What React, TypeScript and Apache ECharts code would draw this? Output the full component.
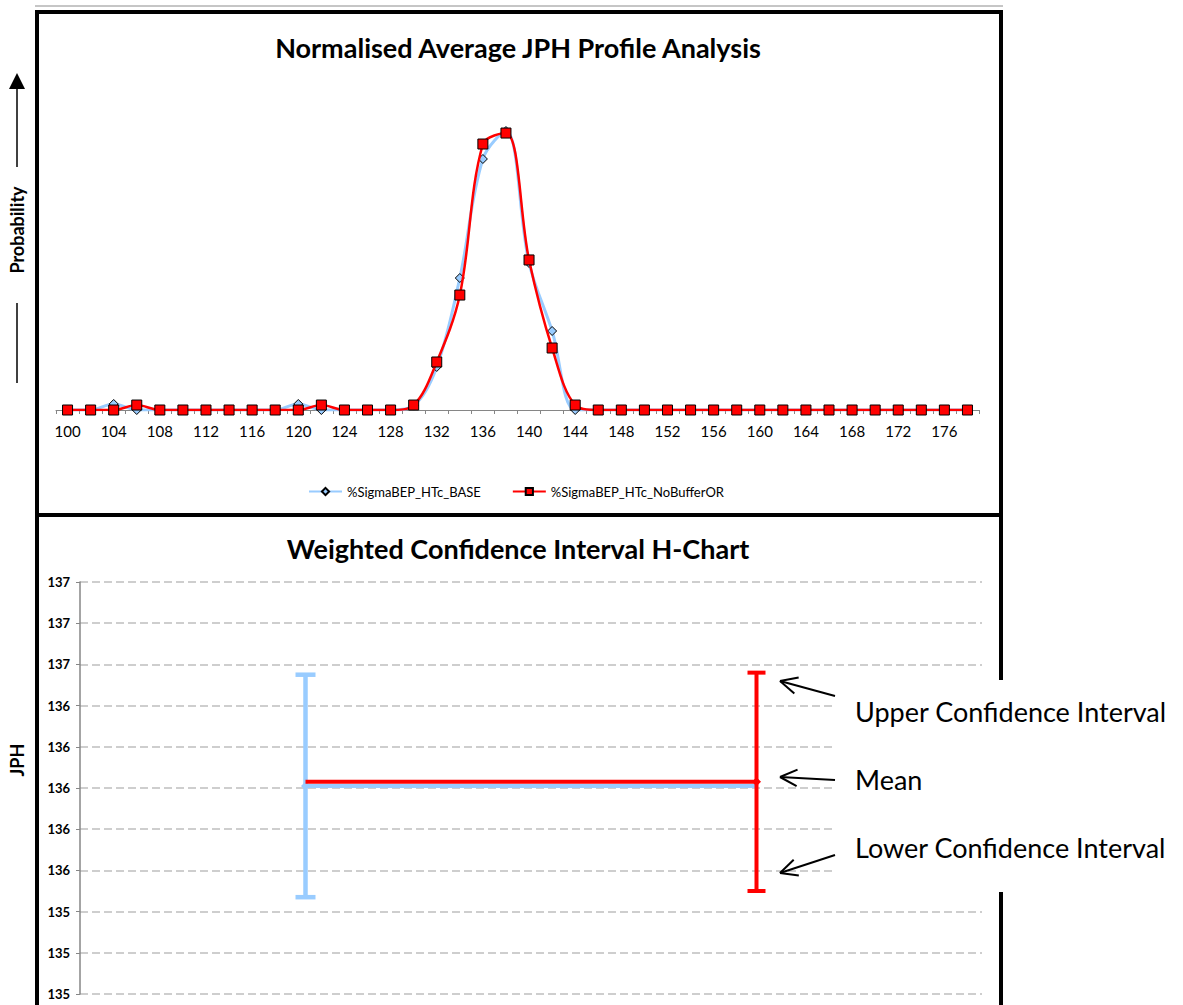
import React, { useEffect, useRef } from "react";
import * as echarts from "echarts";

// ---- Profile chart data (JPH bins and normalised probability, %) ----
const jphBins = [
  "100", "102", "104", "106", "108", "110", "112", "114", "116", "118",
  "120", "122", "124", "126", "128", "130", "132", "134", "136", "138",
  "140", "142", "144", "146", "148", "150", "152", "154", "156", "158",
  "160", "162", "164", "166", "168", "170", "172", "174", "176", "178",
];
const baseProb = [
  0, 0, 0.68, 0, 0, 0, 0, 0, 0, 0,
  0.68, 0, 0, 0, 0, 0.5, 4.86, 14.9, 28.34, 31.5,
  16.6, 8.92, 0, 0, 0, 0, 0, 0, 0, 0,
  0, 0, 0, 0, 0, 0, 0, 0, 0, 0,
];
const noBufferProb = [
  0, 0, 0, 0.56, 0, 0, 0, 0, 0, 0,
  0, 0.56, 0, 0, 0, 0.56, 5.42, 12.98, 30.03, 31.27,
  16.94, 7.0, 0.56, 0, 0, 0, 0, 0, 0, 0,
  0, 0, 0, 0, 0, 0, 0, 0, 0, 0,
];
const seriesNames = ["%SigmaBEP_HTc_BASE", "%SigmaBEP_HTc_NoBufferOR"];

// ---- H-chart data (weighted confidence intervals, JPH) ----
const hCategories = ["BASE", "NoBufferOR"];
const baseInterval = { lower: 135.47, mean: 136.01, upper: 136.55 };
const noBufferInterval = { lower: 135.5, mean: 136.03, upper: 136.56 };

const FONT = "Lato, 'Open Sans', sans-serif";
const BLUE = "#99CCFF";
const RED = "#FF0000";

function errorBar(color: string, width: number, capHalf: number) {
  return (params: any, api: any) => {
    const lo = api.coord([api.value(0), api.value(1)]);
    const hi = api.coord([api.value(0), api.value(2)]);
    const style = { stroke: color, lineWidth: width };
    return {
      type: "group",
      children: [
        { type: "line", shape: { x1: lo[0], y1: lo[1], x2: hi[0], y2: hi[1] }, style },
        { type: "line", shape: { x1: hi[0] - capHalf, y1: hi[1], x2: hi[0] + capHalf, y2: hi[1] }, style },
        { type: "line", shape: { x1: lo[0] - capHalf, y1: lo[1], x2: lo[0] + capHalf, y2: lo[1] }, style },
      ],
    };
  };
}

// Open arrow (shaft plus two head strokes) pointing at the tip
function openArrow(tipX: number, tipY: number, tailX: number, tailY: number) {
  const ang = Math.atan2(tailY - tipY, tailX - tipX);
  const len = 19;
  const spread = 0.45;
  const style = { stroke: "#000", lineWidth: 2 };
  return [
    { type: "line", z: 20, shape: { x1: tailX, y1: tailY, x2: tipX, y2: tipY }, style },
    {
      type: "line",
      z: 20,
      shape: { x1: tipX, y1: tipY, x2: tipX + len * Math.cos(ang + spread), y2: tipY + len * Math.sin(ang + spread) },
      style,
    },
    {
      type: "line",
      z: 20,
      shape: { x1: tipX, y1: tipY, x2: tipX + len * Math.cos(ang - spread), y2: tipY + len * Math.sin(ang - spread) },
      style,
    },
  ];
}

function label(text: string, x: number, y: number, size: number, bold: boolean, rotation = 0, align = "center") {
  return {
    type: "text",
    x,
    y,
    z: 20,
    rotation,
    style: {
      text,
      fontFamily: FONT,
      fontSize: size,
      fontWeight: bold ? "bold" : "normal",
      fill: "#000",
      align,
      textAlign: align,
      verticalAlign: "middle",
      textVerticalAlign: "middle",
    },
  };
}

export default function App() {
  const ref = useRef<HTMLDivElement>(null);

  useEffect(() => {
    if (!ref.current) return;
    const chart = echarts.init(ref.current, null, { renderer: "svg" });

    const option: any = {
      animation: false,
      backgroundColor: "#fff",
      grid: [
        { left: 56, right: 204, top: 100, bottom: 595 },
        { left: 80, right: 201, top: 582, bottom: 11 },
      ],
      legend: {
        data: seriesNames,
        left: 303,
        top: 480,
        itemWidth: 33,
        itemHeight: 9,
        itemGap: 31,
        textStyle: { fontFamily: FONT, fontSize: 13, color: "#000" },
      },
      xAxis: [
        {
          type: "category",
          gridIndex: 0,
          data: jphBins,
          boundaryGap: true,
          axisLine: { lineStyle: { color: "#868686", width: 1 } },
          axisTick: { show: true, interval: 0, length: 4, lineStyle: { color: "#868686" } },
          axisLabel: { interval: 1, fontFamily: FONT, fontSize: 15, color: "#000", margin: 13 },
          splitLine: { show: false },
        },
        {
          type: "category",
          gridIndex: 1,
          data: hCategories,
          boundaryGap: true,
          axisLine: { show: false },
          axisTick: { show: false },
          axisLabel: { show: false },
          splitLine: { show: false },
        },
      ],
      yAxis: [
        { type: "value", gridIndex: 0, min: 0, max: 35, show: false },
        {
          type: "value",
          gridIndex: 1,
          min: 135,
          max: 137,
          interval: 0.2,
          axisLine: { show: true, lineStyle: { color: "#868686", width: 1.5 } },
          axisTick: { show: true, length: 4, lineStyle: { color: "#868686" } },
          axisLabel: {
            formatter: (v: number) => String(Math.round(v)),
            fontFamily: FONT,
            fontSize: 13,
            fontWeight: "bold",
            color: "#000",
            margin: 10,
          },
          splitLine: { show: true, lineStyle: { color: "#BFBFBF", type: [8, 4], width: 1.5 } },
        },
      ],
      series: [
        {
          name: seriesNames[0],
          type: "line",
          xAxisIndex: 0,
          yAxisIndex: 0,
          data: baseProb,
          smooth: 0.35,
          showAllSymbol: true,
          symbol: "diamond",
          symbolSize: 9,
          lineStyle: { color: BLUE, width: 3 },
          itemStyle: { color: BLUE, borderColor: "#000", borderWidth: 1 },
          z: 2,
        },
        {
          name: seriesNames[1],
          type: "line",
          xAxisIndex: 0,
          yAxisIndex: 0,
          data: noBufferProb,
          smooth: 0.35,
          showAllSymbol: true,
          symbol: "rect",
          symbolSize: 10,
          lineStyle: { color: RED, width: 2.5 },
          itemStyle: { color: RED, borderColor: "#000", borderWidth: 1 },
          z: 3,
        },
        {
          name: "BASE interval",
          type: "custom",
          xAxisIndex: 1,
          yAxisIndex: 1,
          data: [[0, baseInterval.lower, baseInterval.upper]],
          renderItem: errorBar(BLUE, 4.5, 10),
          encode: { x: 0, y: [1, 2] },
          z: 2,
        },
        {
          name: "BASE mean",
          type: "line",
          xAxisIndex: 1,
          yAxisIndex: 1,
          data: [
            { value: baseInterval.mean, symbol: "diamond", symbolSize: 9 },
            { value: baseInterval.mean, symbol: "none" },
          ],
          lineStyle: { color: BLUE, width: 4 },
          itemStyle: { color: BLUE },
          z: 3,
        },
        {
          name: "NoBufferOR mean",
          type: "line",
          xAxisIndex: 1,
          yAxisIndex: 1,
          data: [
            { value: noBufferInterval.mean, symbol: "none" },
            { value: noBufferInterval.mean, symbol: "diamond", symbolSize: 9 },
          ],
          lineStyle: { color: RED, width: 4 },
          itemStyle: { color: RED },
          z: 4,
        },
        {
          name: "NoBufferOR interval",
          type: "custom",
          xAxisIndex: 1,
          yAxisIndex: 1,
          data: [[1, noBufferInterval.lower, noBufferInterval.upper]],
          renderItem: errorBar(RED, 4, 9),
          encode: { x: 0, y: [1, 2] },
          z: 5,
        },
      ],
      graphic: [
        // frame around both panels
        { type: "line", z: 20, shape: { x1: 35, y1: 6, x2: 1003, y2: 6 }, style: { stroke: "#8c8c8c", lineWidth: 1 } },
        { type: "rect", z: 20, shape: { x: 35, y: 10, width: 968, height: 4 }, style: { fill: "#000" } },
        { type: "rect", z: 20, shape: { x: 35, y: 10, width: 4, height: 995 }, style: { fill: "#000" } },
        { type: "rect", z: 20, shape: { x: 999, y: 10, width: 4, height: 670 }, style: { fill: "#000" } },
        { type: "rect", z: 20, shape: { x: 999, y: 892, width: 4, height: 113 }, style: { fill: "#000" } },
        { type: "rect", z: 20, shape: { x: 35, y: 513, width: 968, height: 4 }, style: { fill: "#000" } },

        // titles
        label("Normalised Average JPH Profile Analysis", 518, 47, 27, true),
        label("Weighted Confidence Interval H-Chart", 518, 548, 27, true),

        // probability axis caption with upward arrow
        label("Probability", 17, 230, 18, true, Math.PI / 2),
        { type: "line", z: 20, shape: { x1: 17, y1: 303, x2: 17, y2: 383 }, style: { stroke: "#000", lineWidth: 1.5 } },
        { type: "line", z: 20, shape: { x1: 17, y1: 86, x2: 17, y2: 167 }, style: { stroke: "#000", lineWidth: 1.5 } },
        { type: "polygon", z: 20, shape: { points: [[17, 73], [9, 89], [25, 89]] }, style: { fill: "#000" } },

        // H-chart axis caption
        label("JPH", 17, 760, 18, true, Math.PI / 2),

        // annotation panel
        { type: "rect", z: 19, shape: { x: 833, y: 680, width: 350, height: 212 }, style: { fill: "#fff" } },
        ...openArrow(780, 681, 835, 696),
        ...openArrow(780, 777, 835, 780),
        ...openArrow(780, 873, 835, 855),
        label("Upper Confidence Interval", 855, 711, 27, false, 0, "left"),
        label("Mean", 855, 779, 27, false, 0, "left"),
        label("Lower Confidence Interval", 855, 847, 27, false, 0, "left"),
      ],
    };

    chart.setOption(option);
    return () => chart.dispose();
  }, []);

  return (
    <div
      ref={ref}
      style={{ position: "absolute", left: 0, top: 0, width: 1183, height: 1005, background: "#fff" }}
    />
  );
}
